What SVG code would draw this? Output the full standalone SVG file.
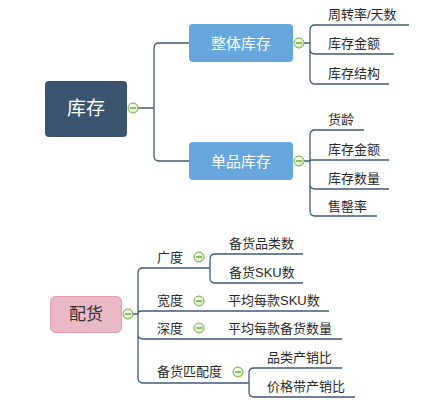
<svg xmlns="http://www.w3.org/2000/svg" width="425" height="401" viewBox="0 0 425 401">
<defs>
<radialGradient id="btn" cx="0.4" cy="0.35" r="0.7">
<stop offset="0" stop-color="#ffffff"/>
<stop offset="1" stop-color="#cfe8b4"/>
</radialGradient>
<g id="collapse">
<circle cx="0" cy="0" r="5" fill="url(#btn)" stroke="#72ad3c" stroke-width="1"/>
<line x1="-3" y1="0" x2="3" y2="0" stroke="#5a9a28" stroke-width="1.3"/>
</g>
</defs>
<style>
.ln{fill:none;stroke:#41597a;stroke-width:1.3}
.t{font-family:"Liberation Sans","Noto Sans CJK SC",sans-serif;font-size:13px;fill:#2a2a2a}
.tw{font-family:"Liberation Sans","Noto Sans CJK SC",sans-serif;fill:#ffffff;text-anchor:middle}
.tp{font-family:"Liberation Sans","Noto Sans CJK SC",sans-serif;fill:#333333;text-anchor:middle}
</style>
<rect width="425" height="401" fill="#ffffff"/>
<g id="connectors">
<path class="ln" d="M138,108 H154 M154,108 V48 Q154,43 159,43 H189 M154,108 V156 Q154,161 159,161 H189"/>
<path class="ln" d="M304,43 H310 M310,43 V30 Q310,25 315,25 H409 M310,43 V49 Q310,54 315,54 H394 M310,43 V79 Q310,84 315,84 H389"/>
<path class="ln" d="M304,161 H310 M310,161 V135 Q310,130 315,130 H364 M310,161 Q310,160 312,160 H389 M310,161 V184 Q310,189 315,189 H389 M310,161 V211 Q310,216 315,216 H377"/>
<path class="ln" d="M133,314 H138 M138,314 V273 Q138,268 143,268 H210 M138,314 Q138,311 141,311 H329 M138,314 V334 Q138,339 143,339 H342 M138,314 V378 Q138,383 143,383 H249"/>
<path class="ln" d="M210,268 V259 Q210,254 215,254 H303 M210,268 V278 Q210,283 215,283 H303"/>
<path class="ln" d="M249,383 V373 Q249,368 254,368 H342 M249,383 V392 Q249,397 254,397 H355"/>
</g>
<g id="node-kucun">
<rect x="45" y="81" width="82" height="56" rx="4" fill="#3b5470"/>
<text class="tw" x="86" y="115" font-size="19">库存</text>
<use href="#collapse" x="133" y="108"/>
</g>
<g id="node-zhengti">
<rect x="189" y="24" width="104" height="38" rx="4" fill="#66a6dd"/>
<text class="tw" x="241" y="49" font-size="15">整体库存</text>
<use href="#collapse" x="299" y="43"/>
</g>
<g id="node-danpin">
<rect x="189" y="142" width="104" height="38" rx="4" fill="#66a6dd"/>
<text class="tw" x="241" y="167" font-size="15">单品库存</text>
<use href="#collapse" x="299" y="161"/>
</g>
<g id="node-zhouzhuan"><text class="t" x="328" y="19">周转率/天数</text></g>
<g id="node-jine1"><text class="t" x="328" y="48">库存金额</text></g>
<g id="node-jiegou"><text class="t" x="328" y="78">库存结构</text></g>
<g id="node-huoling"><text class="t" x="328" y="124">货龄</text></g>
<g id="node-jine2"><text class="t" x="328" y="154">库存金额</text></g>
<g id="node-shuliang"><text class="t" x="328" y="183">库存数量</text></g>
<g id="node-shouqing"><text class="t" x="328" y="211">售罄率</text></g>
<g id="node-peihuo">
<rect x="50.5" y="296.5" width="71" height="36" rx="5" fill="#eab9c6" stroke="#e59ab1" stroke-width="1"/>
<text class="tp" x="86" y="320" font-size="17">配货</text>
<use href="#collapse" x="128" y="314"/>
</g>
<g id="node-guangdu">
<text class="t" x="157" y="262">广度</text>
<use href="#collapse" x="199" y="257"/>
</g>
<g id="node-kuandu">
<text class="t" x="157" y="305">宽度</text>
<use href="#collapse" x="199" y="301"/>
</g>
<g id="node-shendu">
<text class="t" x="157" y="333">深度</text>
<use href="#collapse" x="199" y="328"/>
</g>
<g id="node-pipei">
<text class="t" x="157" y="376">备货匹配度</text>
<use href="#collapse" x="238" y="372"/>
</g>
<g id="node-pinleishu"><text class="t" x="229" y="248">备货品类数</text></g>
<g id="node-skushu"><text class="t" x="229" y="277">备货SKU数</text></g>
<g id="node-pjsku"><text class="t" x="228" y="305">平均每款SKU数</text></g>
<g id="node-pjshu"><text class="t" x="228" y="333">平均每款备货数量</text></g>
<g id="node-pinleichan"><text class="t" x="267" y="362">品类产销比</text></g>
<g id="node-jiagedai"><text class="t" x="267" y="391">价格带产销比</text></g>
</svg>
